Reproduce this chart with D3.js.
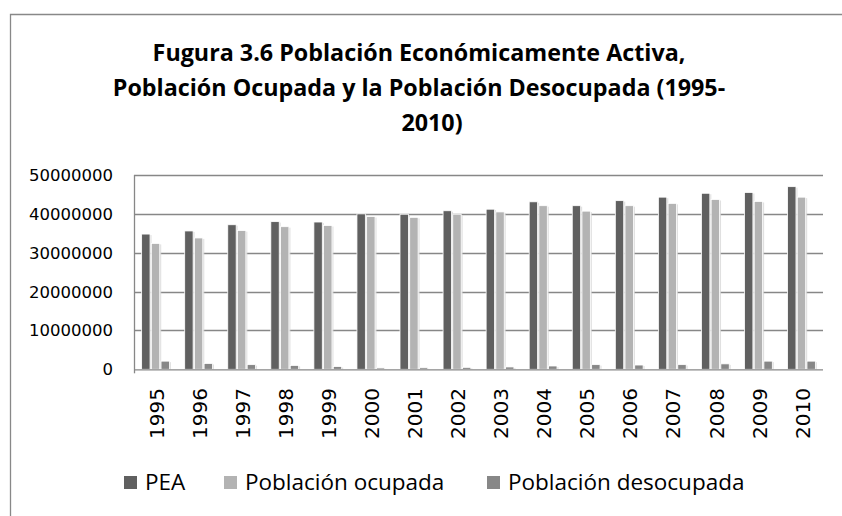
<!DOCTYPE html>
<html><head><meta charset="utf-8">
<script src="https://cdn.jsdelivr.net/npm/d3@7"></script>
<style>body{margin:0;background:#fff}svg{display:block}</style>
</head><body>
<svg id="c" width="842" height="516"></svg>
<script>
const years = ["1995","1996","1997","1998","1999","2000","2001","2002","2003","2004","2005","2006","2007","2008","2009","2010"];
const pea       = [34800000,35600000,37200000,38000000,37900000,40000000,39900000,40800000,41200000,43100000,42100000,43400000,44300000,45300000,45500000,47000000];
const ocupada   = [32400000,33800000,35700000,36700000,37000000,39300000,39100000,39900000,40500000,42100000,40700000,42100000,42700000,43700000,43200000,44300000];
const desocupada= [2100000,1500000,1200000,1000000,700000,350000,400000,500000,600000,850000,1200000,1100000,1200000,1400000,2100000,2100000];
const seriesNames = ["PEA","Población ocupada","Población desocupada"];
const seriesValues = [pea, ocupada, desocupada];
const colors = ["#606060","#b3b3b3","#878787"];
const yTicks = [0,10000000,20000000,30000000,40000000,50000000];
const titleLines = ["Fugura 3.6 Población Económicamente Activa,","Población Ocupada y la Población Desocupada (1995-","2010)"];

const svg = d3.select("#c");
// chart frame
svg.append("path").attr("d","M10.5,516 L10.5,14.5 L842,14.5").attr("fill","none").attr("stroke","#888").attr("stroke-width",1.3);

// title
const tx = [419,419,432], ty = [61,96,131];
titleLines.forEach((t,i)=>{
  svg.append("text").attr("x",tx[i]).attr("y",ty[i]).attr("text-anchor","middle")
    .attr("font-family","'Open Sans'").attr("font-weight","bold").attr("font-size",23.3)
    .attr("fill","#000").text(t);
});

const L=134, R=823, T=175, B=369.3;
const x0 = d3.scaleBand().domain(years).range([L,R]).padding(0);
const pad = (x0.bandwidth()-27.8)/2;
const x1 = d3.scaleBand().domain(d3.range(3)).range([pad, x0.bandwidth()-pad]).paddingInner(0.134);
const y = d3.scaleLinear().domain([0,50000000]).range([B,T]);

// gridlines
svg.append("g").selectAll("line").data(yTicks.slice(1)).join("line")
  .attr("x1",L).attr("x2",R).attr("y1",d=>Math.round(y(d))+0.5).attr("y2",d=>Math.round(y(d))+0.5)
  .attr("stroke","#878787").attr("stroke-width",1.3);

// y axis labels
svg.append("g").selectAll("text").data(yTicks).join("text")
  .attr("x",113).attr("y",d=>y(d)).attr("dy","0.36em").attr("text-anchor","end")
  .attr("font-family","'DejaVu Sans'").attr("font-size",16.5).attr("fill","#000")
  .text(d=>d3.format("d")(d));

// bars
const g = svg.append("g");
years.forEach((yr,i)=>{
  seriesValues.forEach((vals,s)=>{
    const bx = x0(yr)+x1(s), bw = x1.bandwidth(), by = y(vals[i]);
    g.append("rect").attr("x",bx+1.5).attr("y",by+1).attr("width",bw).attr("height",B-by-1)
      .attr("fill","#d8d8d8").attr("opacity",0.8);
    g.append("rect").attr("x",bx).attr("y",by).attr("width",bw).attr("height",B-by)
      .attr("fill",colors[s]).attr("stroke","#fff").attr("stroke-width",0.8);
  });
});

// axes lines
svg.append("line").attr("x1",L+0.5).attr("x2",L+0.5).attr("y1",T).attr("y2",B+4).attr("stroke","#878787").attr("stroke-width",1.3);
svg.append("line").attr("x1",L).attr("x2",R).attr("y1",B+0.5).attr("y2",B+0.5).attr("stroke","#878787").attr("stroke-width",1.3);

// x labels
svg.append("g").selectAll("text").data(years).join("text")
  .attr("transform",d=>`translate(${x0(d)+x0.bandwidth()/2+1},388) rotate(-90)`)
  .attr("dy","0.36em").attr("text-anchor","end")
  .attr("font-family","'DejaVu Sans'").attr("font-size",20).attr("fill","#000").text(d=>d);

// legend
const lx = [124,224,487];
seriesNames.forEach((n,i)=>{
  svg.append("rect").attr("x",lx[i]).attr("y",476).attr("width",13).attr("height",13).attr("fill",colors[i]);
  svg.append("text").attr("x",lx[i]+21).attr("y",490).attr("font-family","'Open Sans'").attr("font-size",22.5)
    .attr("fill","#000").text(n);
});
</script>
</body></html>
